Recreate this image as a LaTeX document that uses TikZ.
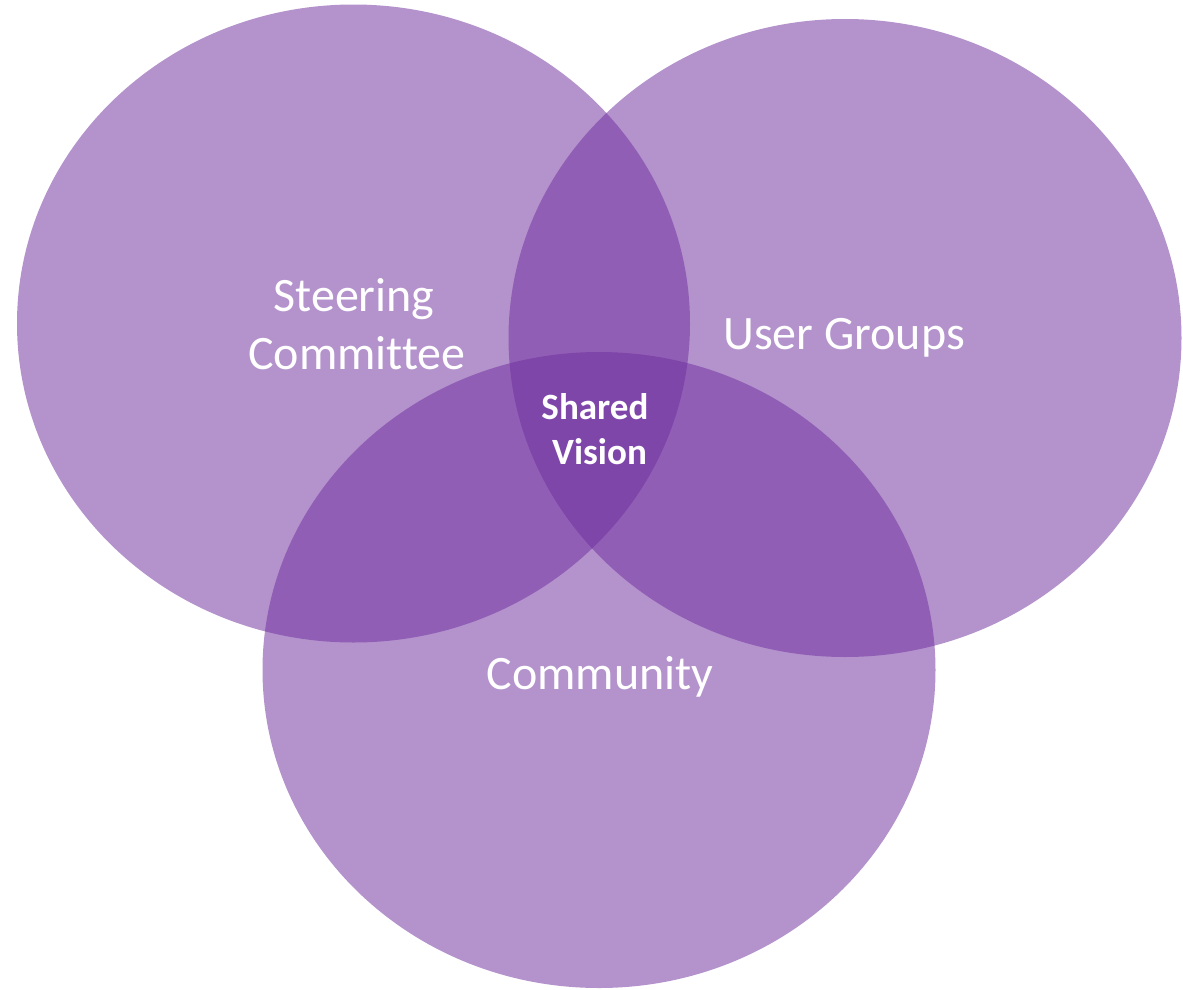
\documentclass[tikz,border=0pt]{standalone}
\usepackage{fontspec}
\setmainfont[Ligatures=NoCommon]{Carlito}
\usetikzlibrary{shapes.geometric}
\definecolor{vpurple}{HTML}{7030A0}
\tikzset{
  venn/.style={ellipse, inner sep=0pt, outer sep=0pt, fill=vpurple, fill opacity=0.52,
    minimum width=673*0.75pt, minimum height=638*0.75pt},
  lbl/.style={text=white, anchor=base, inner sep=0pt, font=\fontsize{36}{36}\selectfont},
  blbl/.style={text=white, anchor=base, inner sep=0pt, font=\fontsize{27.8}{27.8}\selectfont\bfseries}
}
\begin{document}
\begin{tikzpicture}[x=0.75pt,y=-0.75pt]
\fill[white] (0,0) rectangle (1183,990);
\useasboundingbox (0,0) rectangle (1183,990);
\node[venn] (sc) at (353.5,323.5) {};
\node[venn] (ug) at (845,338) {};
\node[venn, minimum height=636*0.75pt] (cm) at (599,670) {};
\node[lbl] (t1) at (354,311) {Steering};
\node[lbl] (t2) at (357,369) {Committee};
\node[lbl] (t3) at (844,349) {User Groups};
\node[lbl] (t4) at (600,689) {Community};
\node[blbl] (t5) at (595,419) {Shared};
\node[blbl] (t6) at (599.5,464) {Vision};
\end{tikzpicture}
\end{document}
